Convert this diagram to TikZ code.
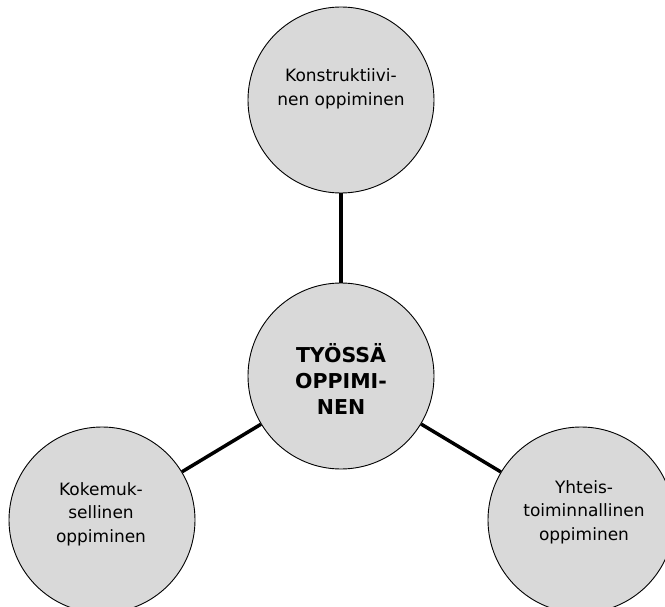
\documentclass[tikz,border=0pt]{standalone}
\usepackage{fontspec}
\setmainfont{DejaVu Sans}
\definecolor{bubblegray}{HTML}{D9D9D9}
\begin{document}
\begin{tikzpicture}[x=1pt, y=-1pt,
    bubble/.style={circle, draw, line width=0.9pt, fill=bubblegray, minimum size=186pt, inner sep=0pt},
    txt/.style={align=center, font=\fontsize{17}{23.5}\selectfont},
    hubtxt/.style={align=center, font=\fontsize{20.5}{26}\selectfont\bfseries},
    link/.style={line width=3.5pt}]

    \useasboundingbox (0,0) rectangle (665,607); % page size

    % circles
    \node[bubble] (top) at (341,100) {};
    \node[bubble] (mid) at (341,376) {};
    \node[bubble] (left) at (102,520) {};
    \node[bubble] (right) at (581,520) {};

    % spokes
    \draw[link] (mid) -- (top);
    \draw[link] (mid) -- (left);
    \draw[link] (mid) -- (right);

    % texts
    \node[txt] (toptxt) at (341,89) {Konstruktiivi-\\nen oppiminen};
    \node[hubtxt] (midtxt) at (341,379) {TYÖSSÄ\\OPPIMI-\\NEN};
    \node[txt] (lefttxt) at (101,514) {Kokemuk-\\sellinen\\oppiminen};
    \node[txt] (righttxt) at (584,512) {Yhteis-\\toiminnallinen\\oppiminen};

\end{tikzpicture}
\end{document}
